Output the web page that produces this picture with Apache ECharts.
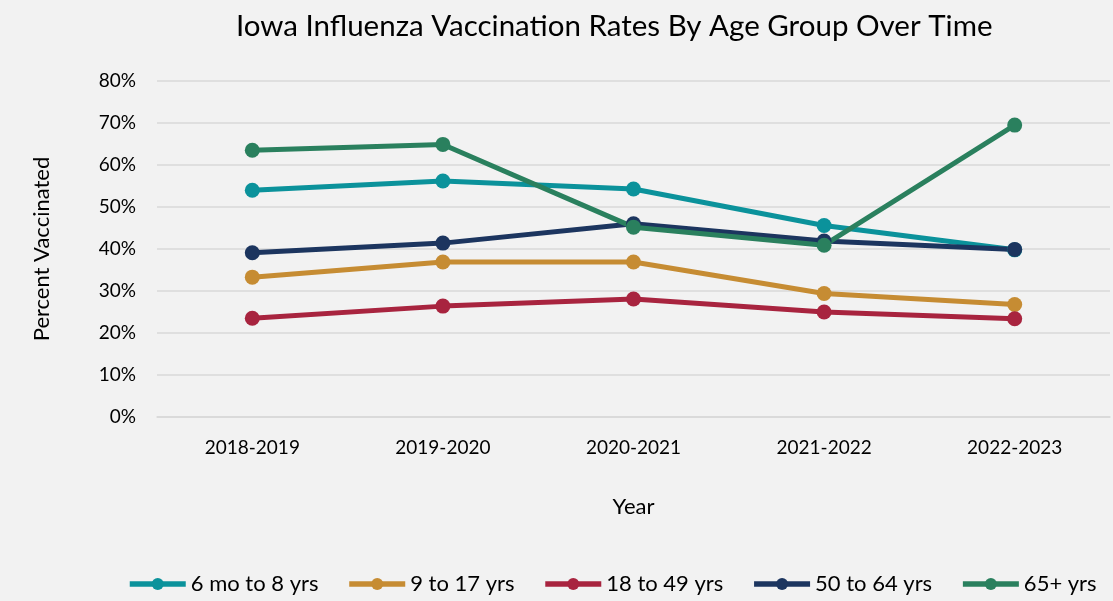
<!DOCTYPE html>
<html>
<head>
<meta charset="utf-8">
<script src="https://cdn.jsdelivr.net/npm/echarts@6/dist/echarts.min.js"></script>
<style>
html,body{margin:0;padding:0;background:#f2f2f2;}
#c{width:1113px;height:601px;}
</style>
</head>
<body>
<div id="c"></div>
<script>
const categories = ['2018-2019','2019-2020','2020-2021','2021-2022','2022-2023'];
const seriesNames = ['6 mo to 8 yrs','9 to 17 yrs','18 to 49 yrs','50 to 64 yrs','65+ yrs'];
const kids = [54.0, 56.2, 54.3, 45.6, 39.8];
const teens = [33.3, 36.9, 36.9, 29.4, 26.8];
const adults = [23.5, 26.4, 28.1, 25.0, 23.4];
const middle = [39.1, 41.4, 46.0, 41.9, 39.9];
const seniors = [63.5, 64.9, 45.2, 40.9, 69.5];
const yTicks = [0, 10, 20, 30, 40, 50, 60, 70, 80];
const colors = ['#0b929b', '#c68c33', '#a8243f', '#1c355f', '#2a805e'];
const values = [kids, teens, adults, middle, seniors];

const font = 'Lato, "Open Sans", sans-serif';
const chart = echarts.init(document.getElementById('c'));
chart.setOption({
  backgroundColor: '#f2f2f2',
  color: colors,
  animation: false,
  title: {
    text: 'Iowa Influenza Vaccination Rates By Age Group Over Time',
    left: 231, top: 6,
    textStyle: {fontFamily: font, fontSize: 29.5, fontWeight: 'normal', color: '#000'}
  },
  legend: {
    bottom: 1, left: 122,
    itemWidth: 56, itemHeight: 15, itemGap: 28,
    lineStyle: {width: 5.5},
    textStyle: {fontFamily: font, fontSize: 22, color: '#000'},
    data: seriesNames
  },
  grid: {left: 157, right: 3, top: 81, bottom: 184},
  xAxis: {
    type: 'category', data: categories, boundaryGap: true,
    name: 'Year', nameLocation: 'middle', nameGap: 79,
    nameTextStyle: {fontFamily: font, fontSize: 22, color: '#000'},
    axisLine: {lineStyle: {color: '#d9d9d9', width: 1.5}},
    axisTick: {show: false},
    axisLabel: {fontFamily: font, fontSize: 19, color: '#000', margin: 21}
  },
  yAxis: {
    type: 'value', min: yTicks[0], max: yTicks[yTicks.length-1], interval: 10,
    name: 'Percent Vaccinated', nameLocation: 'middle', nameGap: 104,
    nameTextStyle: {fontFamily: font, fontSize: 22, color: '#000'},
    axisLine: {show: false}, axisTick: {show: false},
    axisLabel: {fontFamily: font, fontSize: 19, color: '#000', margin: 21, formatter: v => v + '%'},
    splitLine: {lineStyle: {color: '#d9d9d9', width: 1.5}}
  },
  series: seriesNames.map((n, i) => ({
    name: n, type: 'line', data: values[i],
    symbol: 'circle', symbolSize: 15,
    lineStyle: {width: 5, color: colors[i]},
    itemStyle: {color: colors[i]}
  }))
});
</script>
</body>
</html>
